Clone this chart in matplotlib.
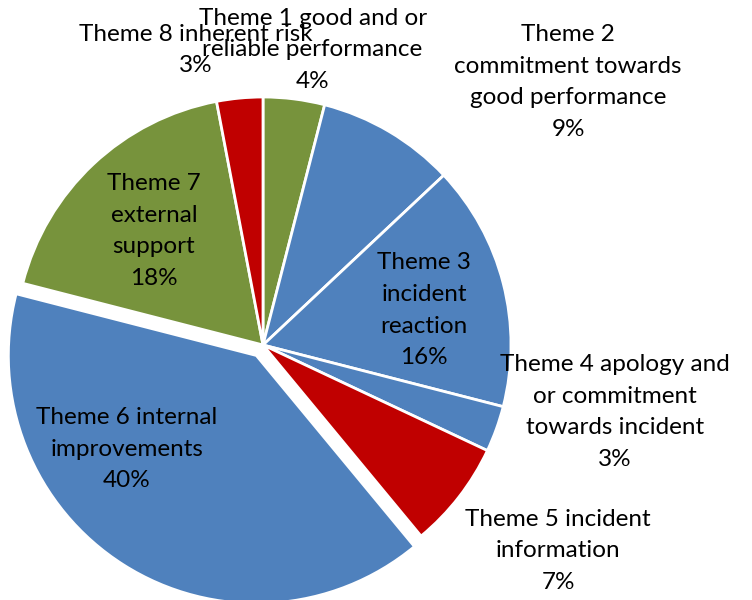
import numpy as np
import matplotlib.pyplot as plt

themes = [
    "Theme 1 good and or\nreliable performance",
    "Theme 2\ncommitment towards\ngood performance",
    "Theme 3\nincident\nreaction",
    "Theme 4 apology and\nor commitment\ntowards incident",
    "Theme 5 incident\ninformation",
    "Theme 6 internal\nimprovements",
    "Theme 7\nexternal\nsupport",
    "Theme 8 inherent risk",
]
shares = [4, 9, 16, 3, 7, 40, 18, 3]

green, blue, red = "#77933C", "#4F81BD", "#C00000"
colors = [green, blue, blue, blue, red, blue, green, red]
explode_frac = [0, 0, 0, 0, 0, 0.05, 0, 0]

# label centres, in units of the pie radius relative to the pie centre
label_pos = [(0.20, 1.19), (1.23, 1.06), (0.65, 0.14), (1.42, -0.27),
             (1.19, -0.83), (-0.55, -0.42), (-0.44, 0.46), (-0.27, 1.19)]

plt.rcParams['font.family'] = ['Lato', 'DejaVu Sans']

fig = plt.figure(figsize=(7.52, 6), dpi=100)
ax = fig.add_axes([0, 0, 1, 1])

cx, cy, r = 263, 255, 248
ax.pie(shares, colors=colors, explode=[e * r for e in explode_frac],
       startangle=90, counterclock=False,
       radius=r, center=(cx, cy), frame=True,
       wedgeprops=dict(edgecolor='white', linewidth=2))
ax.set_xlim(0, 752)
ax.set_ylim(0, 600)
ax.set_aspect('equal')
ax.axis('off')

for name, v, (px, py) in zip(themes, shares, label_pos):
    ax.text(cx + px * r, cy + py * r, f"{name}\n{v}%", ha='center', va='center',
            multialignment='center', fontsize=17.5, linespacing=1.62, color='black')

fig.savefig('out.png', dpi=100)
